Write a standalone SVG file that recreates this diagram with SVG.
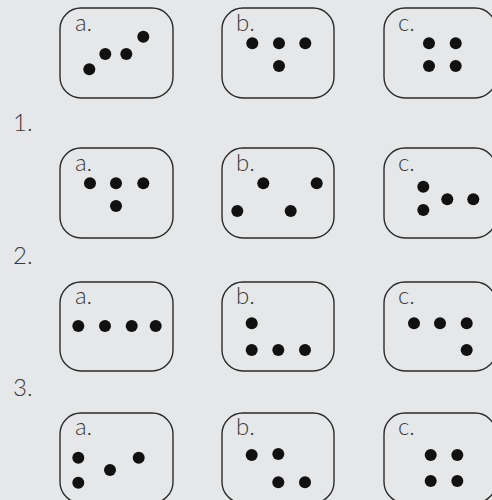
<svg xmlns="http://www.w3.org/2000/svg" width="492" height="500" viewBox="0 0 492 500">
<style>
.bg{fill:#e6e7e8}
.box{fill:none;stroke:#2b2b2b;stroke-width:1.4}
.lbl{font-family:Lato,"Liberation Sans",sans-serif;font-weight:300;font-size:24px;fill:#3a3a3a}
.num{font-family:Lato,"Liberation Sans",sans-serif;font-weight:300;font-size:24px;fill:#3a3a3a}
.d{fill:#111}
</style>
<rect class="bg" x="0" y="0" width="492" height="500"/>
<g id="numbers">
<text class="num" x="13" y="131">1.</text>
<text class="num" x="13" y="264">2.</text>
<text class="num" x="13" y="396">3.</text>
</g>
<g id="r1a"><rect class="box" x="60" y="8" width="113" height="90" rx="21"/><text class="lbl" x="75" y="31">a.</text>
<circle class="d" cx="89.3" cy="69.3" r="6"/><circle class="d" cx="105.3" cy="54" r="6"/><circle class="d" cx="126.3" cy="54" r="6"/><circle class="d" cx="143.3" cy="36.7" r="6"/></g>
<g id="r1b"><rect class="box" x="222" y="8" width="112" height="90" rx="21"/><text class="lbl" x="236" y="31">b.</text>
<circle class="d" cx="252.3" cy="43.3" r="6"/><circle class="d" cx="279" cy="43.3" r="6"/><circle class="d" cx="305.3" cy="43.3" r="6"/><circle class="d" cx="279" cy="66" r="6"/></g>
<g id="r1c"><rect class="box" x="384" y="8" width="112" height="90" rx="21"/><text class="lbl" x="398" y="31">c.</text>
<circle class="d" cx="429" cy="43.3" r="6"/><circle class="d" cx="455.7" cy="43.3" r="6"/><circle class="d" cx="429" cy="66" r="6"/><circle class="d" cx="455.7" cy="66" r="6"/></g>

<g id="r2a"><rect class="box" x="60" y="148" width="113" height="90" rx="21"/><text class="lbl" x="75" y="171">a.</text>
<circle class="d" cx="90" cy="183.3" r="6"/><circle class="d" cx="116" cy="183.3" r="6"/><circle class="d" cx="143.3" cy="183.3" r="6"/><circle class="d" cx="116" cy="206" r="6"/></g>
<g id="r2b"><rect class="box" x="222" y="148" width="112" height="90" rx="21"/><text class="lbl" x="236" y="171">b.</text>
<circle class="d" cx="263.3" cy="183.3" r="6"/><circle class="d" cx="316.7" cy="183.3" r="6"/><circle class="d" cx="237.3" cy="211" r="6"/><circle class="d" cx="290.7" cy="211" r="6"/></g>
<g id="r2c"><rect class="box" x="384" y="148" width="112" height="90" rx="21"/><text class="lbl" x="398" y="171">c.</text>
<circle class="d" cx="423.3" cy="186.7" r="6"/><circle class="d" cx="423.3" cy="210" r="6"/><circle class="d" cx="447.3" cy="199.3" r="6"/><circle class="d" cx="473.3" cy="199.3" r="6"/></g>

<g id="r3a"><rect class="box" x="60" y="282" width="113" height="89" rx="21"/><text class="lbl" x="75" y="304">a.</text>
<circle class="d" cx="78.3" cy="326" r="6"/><circle class="d" cx="105" cy="326" r="6"/><circle class="d" cx="131.7" cy="326" r="6"/><circle class="d" cx="155.7" cy="326" r="6"/></g>
<g id="r3b"><rect class="box" x="222" y="282" width="112" height="89" rx="21"/><text class="lbl" x="236" y="304">b.</text>
<circle class="d" cx="251.7" cy="323.3" r="6"/><circle class="d" cx="251.7" cy="350" r="6"/><circle class="d" cx="278.3" cy="350" r="6"/><circle class="d" cx="305" cy="350" r="6"/></g>
<g id="r3c"><rect class="box" x="384" y="282" width="112" height="89" rx="21"/><text class="lbl" x="398" y="304">c.</text>
<circle class="d" cx="414" cy="323.3" r="6"/><circle class="d" cx="440" cy="323.3" r="6"/><circle class="d" cx="466.7" cy="323.3" r="6"/><circle class="d" cx="466.7" cy="350" r="6"/></g>

<g id="r4a"><rect class="box" x="60" y="413" width="113" height="90" rx="21"/><text class="lbl" x="75" y="435">a.</text>
<circle class="d" cx="78.3" cy="457.7" r="6"/><circle class="d" cx="78.3" cy="482.7" r="6"/><circle class="d" cx="110" cy="470" r="6"/><circle class="d" cx="138.7" cy="457.7" r="6"/></g>
<g id="r4b"><rect class="box" x="222" y="413" width="112" height="90" rx="21"/><text class="lbl" x="236" y="435">b.</text>
<circle class="d" cx="251.7" cy="455" r="6"/><circle class="d" cx="278.3" cy="454" r="6"/><circle class="d" cx="278.3" cy="482.3" r="6"/><circle class="d" cx="305" cy="482.3" r="6"/></g>
<g id="r4c"><rect class="box" x="384" y="413" width="112" height="90" rx="21"/><text class="lbl" x="398" y="435">c.</text>
<circle class="d" cx="430.7" cy="455" r="6"/><circle class="d" cx="457.3" cy="455" r="6"/><circle class="d" cx="430.7" cy="481" r="6"/><circle class="d" cx="457.3" cy="481" r="6"/></g>
<g id="connectors"/>
</svg>
